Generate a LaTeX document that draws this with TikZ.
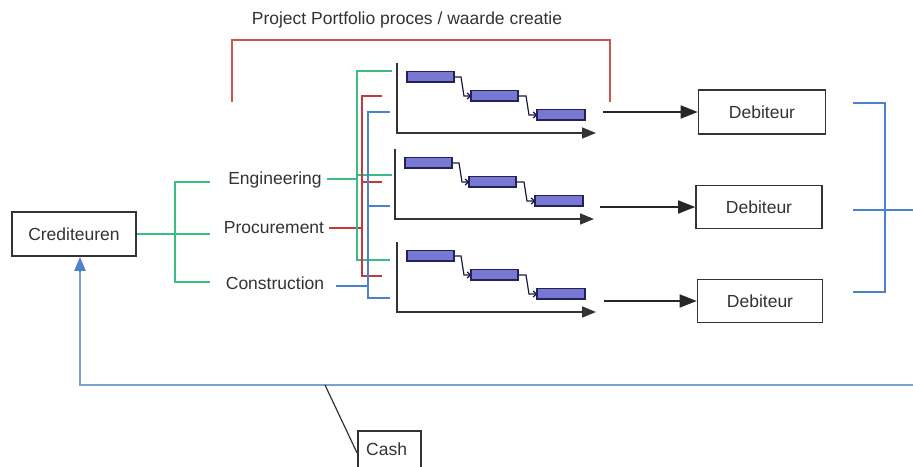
\documentclass[tikz,border=0pt]{standalone}
\usepackage{fontspec}
\setmainfont{Liberation Sans}
\usetikzlibrary{arrows.meta}
\definecolor{grn}{HTML}{3CBC82}
\definecolor{rd}{HTML}{C43A3A}
\definecolor{rdl}{HTML}{CC5555}
\definecolor{blu}{HTML}{4C82CC}
\definecolor{blul}{HTML}{7C9FD8}
\definecolor{barfill}{HTML}{7878D2}
\definecolor{barline}{HTML}{22225A}
\definecolor{txt}{HTML}{333333}
\begin{document}
\begin{tikzpicture}[x=1pt,y=-1pt,
  lbl/.style={text=txt,font=\fontsize{17.5}{20}\selectfont,inner sep=0pt},
  box/.style={draw=txt,line width=1.6pt,fill=white,text=txt,font=\fontsize{17.5}{20}\selectfont,inner sep=0pt},
  gline/.style={draw=grn,line width=1.4pt},
  rline/.style={draw=rd,line width=1.4pt},
  bline/.style={draw=blu,line width=1.4pt},
  bar/.style={fill=barfill,draw=barline,line width=1.3pt},
  glink/.style={draw=barline!70!black,line width=1.2pt,-{Straight Barb[length=3pt,width=6pt]}},
  axis/.style={draw=txt,line width=1.6pt,-{Triangle[length=14pt,width=11pt]}},
  flow/.style={draw=black!85,line width=1.6pt,-{Triangle[length=17pt,width=13pt]}}]
\useasboundingbox (0,0) rectangle (913,466);
\clip (0,0) rectangle (913,466);

% title and red bracket
\node[lbl] (title) at (407,20) {Project Portfolio proces / waarde creatie};
\draw[draw=rdl,line width=1.5pt] (232,102) -- (232,40) -- (610,40) -- (610,102);

% Crediteuren
\node[box,minimum width=124pt,minimum height=44pt] (cred) at (74,234) {Crediteuren};

% green tree
\draw[gline] (cred.east) -- (210,234);
\draw[gline] (210,182) -- (175,182) -- (175,282) -- (210,282);

% labels
\node[lbl] (eng) at (275,180) {Engineering};
\node[lbl] (proc) at (274,228) {Procurement};
\node[lbl] (cons) at (275,283) {Construction};

\draw[gline] (eng.east) ++(5,-1) -- (357,179);
\draw[rline] (proc.east) ++(5,0) -- (362,228);
\draw[bline] (cons.east) ++(12,3) -- (368,286);

% distribution verticals
\draw[gline] (392,71) -- (357,71) -- (357,260) -- (390,260);
\draw[gline] (357,175) -- (392,175);
\draw[rline] (382,96) -- (362,96) -- (362,276) -- (382,276);
\draw[rline] (362,182) -- (382,182);
\draw[bline] (390,112) -- (368,112) -- (368,298) -- (390,298);
\draw[bline] (368,206) -- (390,206);

% gantt charts
\foreach \dx/\dy in {0/0,-2/86,0/179}{
\begin{scope}[shift={(\dx,\dy)}]
  \draw[axis] (397,63) -- (397,133) -- (596,133);
  \draw[glink] (454,77) -- (461,77) -- (464,96) -- (471,96);
  \draw[glink] (518,96) -- (526,96) -- (529,115) -- (537,115);
  \draw[bar] (407,71.5) rectangle (454,82);
  \draw[bar] (471,90.5) rectangle (518,101);
  \draw[bar] (537,109.5) rectangle (585,120);
\end{scope}}

% Debiteur boxes
\node[box,minimum width=127pt,minimum height=44pt] (deb1) at (762,112) {Debiteur};
\node[box,minimum width=126pt,minimum height=43pt] (deb2) at (759,207) {Debiteur};
\node[box,minimum width=125pt,minimum height=43pt] (deb3) at (760,301) {Debiteur};

\coordinate (a1) at (603,112);
\coordinate (a2) at (600,207);
\coordinate (a3) at (604,301);
\draw[flow] (a1) -- (deb1.west);
\draw[flow] (a2) -- (deb2.west);
\draw[flow] (a3) -- (deb3.west);

% right blue bracket
\draw[bline] (853,103) -- (885,103) -- (885,292) -- (853,292);
\draw[bline] (853,210) -- (913,210);

% cash return
\coordinate (re) at (913,385);
\coordinate (cp) at (325,385);
\draw[draw=blul,line width=2.2pt] (re) -- (80,385) -- (80,270);
\draw[draw=blu,line width=2.2pt,-{Triangle[length=14pt,width=11pt]}] (80,272) -- (cred.south -| 80,0);
\node[box,anchor=north west,minimum width=63pt,minimum height=44pt] (cash) at (357,430) {};
\node[lbl,anchor=west] (cashl) at (366,449) {Cash};
\draw[draw=txt,line width=1.2pt] (cp) -- (cash.west);
\end{tikzpicture}
\end{document}
